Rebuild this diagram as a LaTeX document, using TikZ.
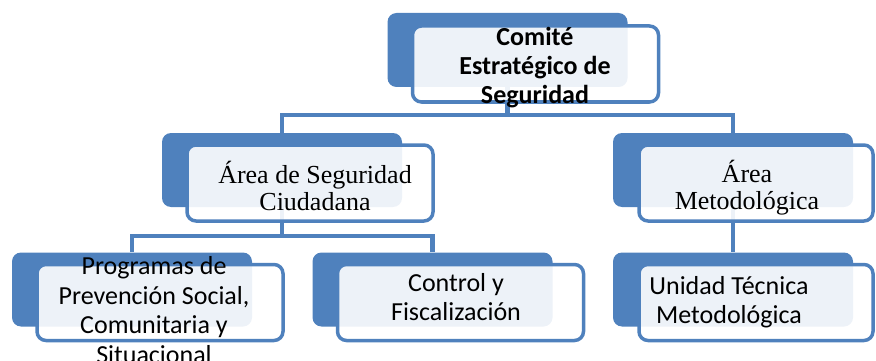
\documentclass[tikz,border=0pt]{standalone}
\usepackage{fontspec}
\setmainfont{Liberation Serif}
\newfontfamily\calibri{Carlito}
\usetikzlibrary{positioning,backgrounds}
\definecolor{orgblue}{RGB}{79,129,189}

\tikzset{
  back/.style={fill=orgblue, rounded corners=9pt, minimum width=240pt, minimum height=74pt, inner sep=0pt},
  front/.style={draw=orgblue, line width=3.5pt, fill=white, fill opacity=0.9, rounded corners=9pt, minimum width=246pt, minimum height=76pt, inner sep=0pt},
  link/.style={draw=orgblue, line width=4.5pt},
  sans/.style={font=\calibri\fontsize{26}{29.5}\selectfont, align=center},
  serif/.style={font=\fontsize{26}{27}\selectfont, align=center},
}

\begin{document}
\begin{tikzpicture}[x=1pt,y=-1pt]
\useasboundingbox (0,0) rectangle (876,361);

% comite
\node[back] (cesB) at (507.5,50) {};
\node[front] (cesF) at ([shift={(28,14)}]cesB) {};
\node[sans, font=\calibri\bfseries\fontsize{26}{29}\selectfont] (cesT) at (535,68) {Comité\\Estratégico de\\Seguridad};

% areas
\node[back] (asB) at (282,170) {};
\node[front] (asF) at ([shift={(28,13)}]asB) {};
\node[serif] (asT) at (315,186) {Área de Seguridad\\Ciudadana};

\node[back] (amB) at (733,170) {};
\node[front, minimum width=234pt] (amF) at ([shift={(23,13)}]amB) {};
\node[serif] (amT) at (747,188) {Área\\Metodológica};

% unidades
\node[back] (ppB) at (132,289.5) {};
\node[front] (ppF) at ([shift={(28,13)}]ppB) {};
\node[sans] (ppT) at (154,310) {Programas de\\Prevención Social,\\Comunitaria y\\Situacional};

\node[back] (cfB) at (432.5,289.5) {};
\node[front] (cfF) at ([shift={(28,13)}]cfB) {};
\node[sans] (cfT) at (456,297) {Control y\\Fiscalización};

\node[back] (utB) at (733,289.5) {};
\node[front, minimum width=234pt] (utF) at ([shift={(23,13)}]utB) {};
\node[sans] (utT) at (729,302) {Unidad Técnica\\Metodológica};

\begin{scope}[on background layer]
\draw[link] (cesB.south) -- ++(0,28) -| (asB.north);
\draw[link] (cesB.south) -- ++(0,28) -| (amB.north);
\draw[link] (asB.south) -- ++(0,29) -| (ppB.north);
\draw[link] (asB.south) -- ++(0,29) -| (cfB.north);
\draw[link] (amB.south) -- (utB.north);
\end{scope}

\end{tikzpicture}
\end{document}
